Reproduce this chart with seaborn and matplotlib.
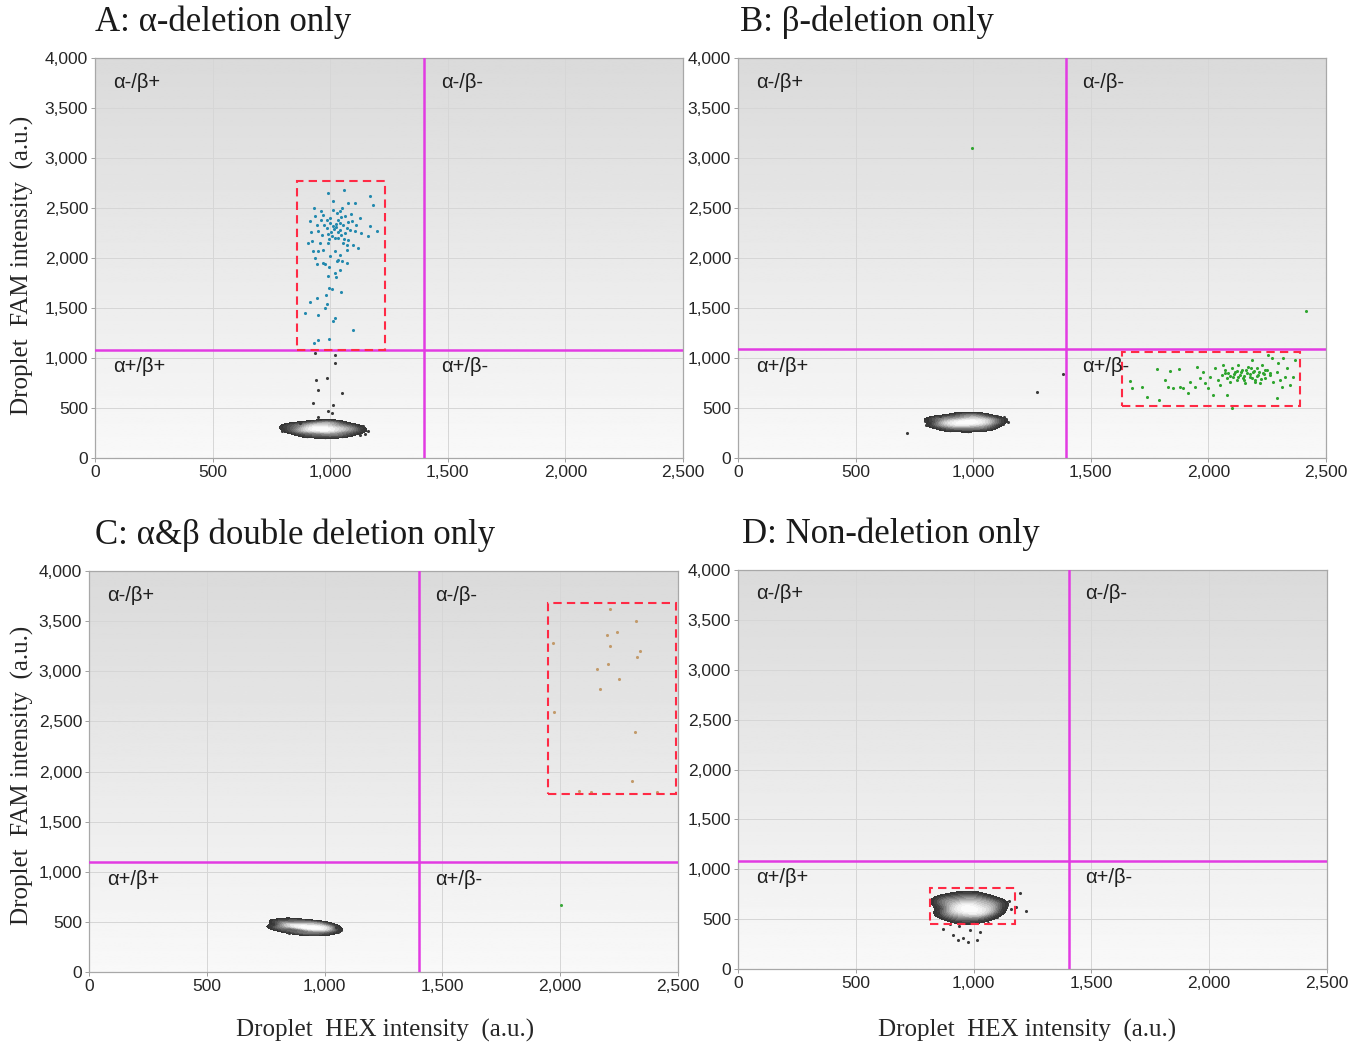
import numpy as np
import pandas as pd
import matplotlib
matplotlib.use("Agg")
import matplotlib.pyplot as plt
from matplotlib.colors import LinearSegmentedColormap
from matplotlib.patches import Rectangle
from matplotlib.ticker import FuncFormatter
import seaborn as sns

# ---------------- data ----------------
titles = ["A: α-deletion only", "B: β-deletion only",
          "C: α&β double deletion only", "D: Non-deletion only"]
quadrant_labels = ["α-/β+", "α-/β-", "α+/β+", "α+/β-"]
x_ticks = [0, 500, 1000, 1500, 2000, 2500]
y_ticks = [0, 500, 1000, 1500, 2000, 2500, 3000, 3500, 4000]
hex_threshold = [1400, 1395, 1400, 1405]
fam_threshold = [1085, 1090, 1097, 1085]

# highlighted boxes [x0, x1, y0, y1]
box_A = [860, 1235, 1085, 2770]
box_B = [1633, 2390, 520, 1060]
box_C = [1948, 2490, 1776, 3681]
box_D = [815, 1176, 451, 812]

# Panel A
blue_A = [
    (990, 2650), (1059, 2680), (1012, 2570), (1076, 2550), (1105, 2550), (1169, 2620),
    (1182, 2530), (931, 2500), (960, 2470), (1041, 2470), (914, 2370), (969, 2430),
    (999, 2400), (1033, 2380), (1063, 2420), (1093, 2370), (1127, 2400), (1169, 2320),
    (1199, 2270), (1161, 2220), (944, 2330), (986, 2300), (1012, 2320), (1041, 2280),
    (1071, 2300), (1105, 2270), (965, 2230), (1007, 2220), (1033, 2200), (1076, 2180),
    (922, 2170), (906, 2150), (956, 2150), (990, 2150), (1054, 2150), (1118, 2100),
    (969, 2080), (948, 2070), (927, 2070), (1020, 2070), (1041, 2030), (999, 2020),
    (935, 2000), (969, 1950), (1033, 1980), (1071, 2080), (1097, 2130),
    (985, 2380), (1000, 2350), (1015, 2290), (1025, 2340), (1035, 2260), (1045, 2410),
    (1055, 2330), (1065, 2250), (1005, 2260), (990, 2240), (1020, 2200), (1040, 2350),
    (1060, 2190), (1075, 2360), (1085, 2280), (975, 2330), (960, 2380), (950, 2270),
    (1030, 2450), (1010, 2480), (1050, 2500), (1090, 2440), (1025, 2310), (1045, 2230),
    (995, 2190), (1070, 2130), (1110, 2330), (1130, 2250), (935, 2420), (920, 2260),
    (943, 1940), (977, 1940), (995, 1910), (1029, 1970), (1050, 1970), (1071, 1950),
    (1041, 1880), (1020, 1850), (990, 1820), (1025, 1810), (995, 1700), (1007, 1690),
    (1045, 1660), (982, 1630), (944, 1600), (914, 1560), (986, 1540), (977, 1500),
    (893, 1450), (948, 1430), (1020, 1400), (1012, 1370), (1097, 1280), (948, 1180),
    (995, 1190), (931, 1150),
]
grey_core_A = [
    (815, 300), (830, 320), (835, 270), (850, 330), (860, 280),
    (870, 250), (880, 335), (890, 300), (900, 260), (905, 340), (915, 280), (925, 230),
    (930, 315), (940, 345), (950, 270), (955, 300), (965, 235), (970, 330), (980, 280),
    (990, 350), (995, 250), (1005, 300), (1015, 225), (1020, 335), (1030, 270),
    (1040, 310), (1050, 240), (1060, 330), (1070, 280), (1080, 300), (1090, 250),
    (1100, 320), (1110, 270), (1120, 290), (920, 300), (960, 290),
    (1000, 290), (980, 310), (940, 290), (1010, 275), (970, 265), (950, 320),
    (890, 280), (1050, 290), (900, 220), (1000, 360), (950, 360), (1050, 225),
    (980, 210), (1020, 355),
]
grey_stray_A = [
    (935, 1050), (1020, 1030), (1020, 950), (986, 800), (940, 780), (948, 680),
    (1050, 650), (927, 550), (1012, 530), (990, 470), (1007, 450), (948, 410),
    (1160, 270), (785, 310), (795, 270), (800, 290), (1135, 280), (1140, 320),
    (1150, 245), (1125, 230), (870, 350),
]

# Panel B
green_B = [
    (1667, 770), (1675, 700), (1718, 710), (1739, 610), (1781, 890), (1790, 580),
    (1815, 780), (1837, 870), (1828, 710), (1849, 700), (1875, 890), (1879, 710),
    (1892, 700), (1913, 650), (1922, 760), (1943, 710), (1951, 910), (1964, 800),
    (1977, 860), (1986, 750), (1998, 700), (2007, 810), (2020, 630), (2028, 900),
    (2041, 780), (2049, 730), (2058, 830), (2062, 930), (2071, 880), (2079, 800),
    (2079, 630), (2083, 850), (2092, 760), (2100, 900), (2105, 810), (2113, 860),
    (2122, 780), (2126, 930), (2134, 830), (2143, 880), (2147, 800), (2156, 750),
    (2164, 850), (2168, 910), (2177, 810), (2185, 980), (2190, 860), (2198, 780),
    (2207, 900), (2211, 830), (2219, 750), (2228, 930), (2232, 850), (2241, 800),
    (2249, 880), (2253, 1030), (2262, 830), (2270, 1000), (2275, 760), (2292, 860),
    (2296, 950), (2304, 780), (2313, 710), (2317, 1000), (2326, 810), (2334, 900),
    (2347, 730), (2360, 810), (2368, 980), (2292, 600), (2100, 500),
    (2110, 840), (2125, 810), (2140, 860), (2150, 820), (2160, 880), (2175, 840),
    (2185, 800), (2195, 870), (2205, 820), (2215, 860), (2225, 790), (2235, 840),
    (2180, 900), (2150, 780), (2120, 870), (2200, 760), (2090, 820), (2240, 880),
    (2260, 850), (2070, 850), (995, 3100), (2415, 1470),
]
grey_core_B = [
    (825, 385), (835, 330), (850, 395), (860, 345), (870, 310),
    (880, 400), (890, 360), (900, 320), (910, 410), (920, 340), (930, 300), (940, 385),
    (950, 355), (960, 420), (965, 330), (975, 300), (985, 390), (995, 350), (1005, 410),
    (1015, 320), (1025, 370), (1035, 300), (1045, 395), (1055, 340), (1065, 380),
    (1075, 320), (1085, 400), (1095, 350), (1110, 375), (940, 350),
    (970, 360), (1000, 365), (1020, 345), (950, 330), (990, 375), (915, 370),
    (1050, 360), (880, 355), (900, 280), (1000, 430), (1050, 290), (950, 440),
    (980, 275), (1030, 425),
]
grey_stray_B = [
    (795, 370), (810, 350), (1125, 340), (1140, 390), (1100, 420), (1130, 410),
    (718, 250), (1271, 660), (1382, 840), (1150, 360), (800, 330), (860, 420),
]

# Panel C
tan_C = [
    (2211, 3621), (2322, 3501), (2199, 3362), (2241, 3392), (1969, 3282), (2211, 3252),
    (2339, 3202), (2326, 3142), (2156, 3022), (2203, 3072), (2250, 2923), (2169, 2823),
    (1974, 2594), (2317, 2394), (2305, 1905), (2080, 1805), (2131, 1796), (2411, 1796),
]
green_C = [(2003, 668)]
grey_core_C = [
    (790, 440), (800, 505), (810, 455), (820, 495), (830, 420),
    (840, 480), (850, 525), (860, 405), (870, 455), (880, 505), (890, 395), (900, 450),
    (910, 500), (920, 385), (930, 440), (940, 495), (950, 385), (960, 430), (970, 490),
    (980, 385), (990, 440), (1000, 480), (1010, 395), (1020, 435), (1035, 415),
    (900, 465), (930, 460), (950, 450), (880, 465), (970, 440), (910, 430),
    (860, 465), (990, 420), (1030, 455), (820, 455), (940, 420), (960, 470), (1000, 450),
]
grey_stray_C = [(765, 470), (780, 475), (1050, 445), (1055, 400), (1070, 415),
                (770, 445), (1060, 430), (850, 390)]

# Panel D
grey_core_D = [
    (855, 680), (865, 560), (875, 650), (885, 710), (895, 540),
    (905, 620), (915, 690), (925, 500), (935, 590), (945, 740), (955, 520), (965, 650),
    (975, 710), (985, 480), (995, 600), (1005, 740), (1015, 540), (1025, 660),
    (1035, 700), (1045, 510), (1055, 620), (1065, 690), (1075, 560), (1085, 640),
    (1095, 590), (1110, 660), (960, 600), (990, 620), (1020, 590),
    (940, 640), (1000, 560), (970, 570), (1050, 580), (910, 580), (980, 660),
]
grey_stray_D = [
    (830, 640), (845, 600), (1125, 610), (1140, 640), (1160, 600), (1180, 620),
    (1197, 762), (1222, 581), (913, 341), (934, 291), (955, 311), (976, 271),
    (1014, 291), (870, 401), (1027, 371), (985, 391), (900, 450), (940, 430),
    (1060, 460), (1150, 680), (850, 560), (1100, 520),
]

# ---------------- style ----------------
sns.set_theme(style="white")
plt.rcParams["font.family"] = ["Liberation Sans", "DejaVu Sans"]
serif = ["Liberation Serif", "DejaVu Serif"]

fig = plt.figure(figsize=(13.63, 10.47), dpi=100)
W, H = 1363, 1047
rects_px = [(95, 58, 683, 458), (738, 58, 1326, 458),
            (89, 571, 678, 972), (738, 570, 1327, 969)]
title_left_px = [95, 740, 95, 742]

core_cmap = LinearSegmentedColormap.from_list(
    "core", ["#2e2e2e", "#484848", "#808080", "#c4c4c4", "#eeeeee", "#ffffff"])
bg = np.linspace(0.855, 0.975, 256).reshape(-1, 1)

panels = [
    dict(colored=[(blue_A, "#2389ae")], core=grey_core_A, stray=grey_stray_A, box=box_A),
    dict(colored=[(green_B, "#2fa52f")], core=grey_core_B, stray=grey_stray_B, box=box_B),
    dict(colored=[(tan_C, "#c29a6a"), (green_C, "#3aa83a")], core=grey_core_C,
         stray=grey_stray_C, box=box_C),
    dict(colored=[], core=grey_core_D, stray=grey_stray_D, box=box_D),
]

fmt = FuncFormatter(lambda v, p: f"{int(v):,}")

for i, (rp, pan) in enumerate(zip(rects_px, panels)):
    l, t, r, b = rp
    ax = fig.add_axes([l / W, 1 - b / H, (r - l) / W, (b - t) / H])
    ax.imshow(bg, extent=[0, 1, 0, 1], transform=ax.transAxes, aspect="auto",
              cmap="gray", vmin=0, vmax=1, zorder=0)
    ax.set_xlim(0, 2500)
    ax.set_ylim(0, 4000)
    ax.set_xticks(x_ticks)
    ax.set_yticks(y_ticks)
    ax.xaxis.set_major_formatter(fmt)
    ax.yaxis.set_major_formatter(fmt)
    ax.grid(True, color="#d6d6d6", lw=0.7)
    ax.tick_params(axis="both", labelsize=12.5, length=3, width=0.6, color="#909090",
                   pad=2, direction="out", bottom=True, left=True)
    for s in ax.spines.values():
        s.set_color("#a8a8a8")
        s.set_linewidth(0.9)

    # dense grey cluster: dark droplets at the rim, smooth density core inside
    core = pd.DataFrame(pan["core"], columns=["x", "y"])
    sns.scatterplot(data=core, x="x", y="y", color="#2a2a2a", s=6, linewidth=0,
                    ax=ax, zorder=1.8)
    sns.kdeplot(data=core, x="x", y="y", fill=True, cmap=core_cmap, levels=14,
                thresh=0.08, bw_adjust=0.95, ax=ax, zorder=2)
    stray = pd.DataFrame(pan["stray"], columns=["x", "y"])
    sns.scatterplot(data=stray, x="x", y="y", color="#3a3a3a", s=5, linewidth=0,
                    ax=ax, zorder=2.1)
    for pts, col in pan["colored"]:
        d = pd.DataFrame(pts, columns=["x", "y"])
        sns.scatterplot(data=d, x="x", y="y", color=col, s=5, linewidth=0,
                        ax=ax, zorder=3)

    # thresholds
    ax.axvline(hex_threshold[i], color="#e23be2", lw=1.8, zorder=4)
    ax.axhline(fam_threshold[i], color="#e23be2", lw=1.8, zorder=4)

    # highlighted box
    x0, x1, y0, y1 = pan["box"]
    ax.add_patch(Rectangle((x0, y0), x1 - x0, y1 - y0, fill=False,
                           edgecolor="#ff2a45", lw=1.5, ls=(0, (4, 2.5)), zorder=5))

    # quadrant labels
    qx_left, qx_right = 75, hex_threshold[i] + 70
    qy_top, qy_bot = 3760, fam_threshold[i] - 170
    for qx, qy, lab in [(qx_left, qy_top, quadrant_labels[0]),
                        (qx_right, qy_top, quadrant_labels[1]),
                        (qx_left, qy_bot, quadrant_labels[2]),
                        (qx_right, qy_bot, quadrant_labels[3])]:
        ax.text(qx, qy, lab, fontsize=14.5, va="center", zorder=6, color="#202020")

    ax.set_xlabel("")
    ax.set_ylabel("")
    ax.text((title_left_px[i] - l) / (r - l), 1 + 36 / (b - t), titles[i],
            transform=ax.transAxes, fontsize=25, family=serif, va="center",
            ha="left", color="#1a1a1a")

# axis labels
for yc in (265, 775):
    fig.text(22 / W, 1 - yc / H, "Droplet  FAM intensity  (a.u.)", rotation=90,
             ha="center", va="center", fontsize=18, family=serif)
for xc in (385, 1027):
    fig.text(xc / W, 1 - 1030 / H, "Droplet  HEX intensity  (a.u.)",
             ha="center", va="center", fontsize=18, family=serif)

fig.savefig("out.png", dpi=100, facecolor="white")
